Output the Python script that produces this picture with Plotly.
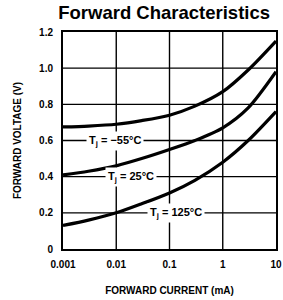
import math
import plotly.graph_objects as go

current_ma = [0.001, 0.003, 0.01, 0.03, 0.1, 0.3, 1, 3, 10]
v_m55 = [0.675, 0.68, 0.69, 0.71, 0.74, 0.79, 0.87, 0.99, 1.15]
v_25 = [0.41, 0.43, 0.46, 0.50, 0.55, 0.60, 0.67, 0.78, 0.98]
v_125 = [0.13, 0.16, 0.20, 0.25, 0.31, 0.38, 0.48, 0.60, 0.76]

x_ticks = [0.001, 0.01, 0.1, 1, 10]
x_ticktext = ["0.001", "0.01", "0.1", "1", "10"]
y_ticks = [0, 0.2, 0.4, 0.6, 0.8, 1.0, 1.2]
y_ticktext = ["0", "0.2", "0.4", "0.6", "0.8", "1.0", "1.2"]

labels = ["T<sub>j</sub> = \u221255°C", "T<sub>j</sub> = 25°C", "T<sub>j</sub> = 125°C"]
label_x = [0.0095, 0.019, 0.13]
label_y = [0.6, 0.4, 0.2]

FONT = "Liberation Sans, Arial, sans-serif"

fig = go.Figure()

# grid lines built from the tick arrays
for xv in x_ticks[1:-1]:
    fig.add_trace(go.Scatter(x=[xv, xv], y=[y_ticks[0], y_ticks[-1]], mode="lines",
                             line=dict(color="black", width=1.4),
                             showlegend=False, hoverinfo="skip"))
for yv in y_ticks[1:-1]:
    fig.add_trace(go.Scatter(x=[x_ticks[0], x_ticks[-1]], y=[yv, yv], mode="lines",
                             line=dict(color="black", width=1.4),
                             showlegend=False, hoverinfo="skip"))

for v in (v_m55, v_25, v_125):
    fig.add_trace(go.Scatter(x=current_ma, y=v, mode="lines",
                             line=dict(color="black", width=3.2, shape="spline", smoothing=0.8),
                             showlegend=False, hoverinfo="skip"))

for t, xx, yy in zip(labels, label_x, label_y):
    fig.add_annotation(x=math.log10(xx), y=yy, xref="x", yref="y", text="<b>" + t + "</b>",
                       showarrow=False, bgcolor="white", borderpad=2,
                       font=dict(family=FONT, size=11, color="black"))

fig.update_layout(
    width=283, height=300,
    margin=dict(l=63, r=7, t=32, b=51),
    paper_bgcolor="white", plot_bgcolor="white",
    title=dict(text="<b>Forward Characteristics</b>", x=0.58, xanchor="center",
               y=0.957, yanchor="middle",
               font=dict(family=FONT, size=18.5, color="black")),
    font=dict(family=FONT, color="black"),
    hovermode=False,
)
fig.update_xaxes(type="log", range=[-3, 1], tickvals=x_ticks,
                 ticktext=["<b>" + t + "</b>" for t in x_ticktext],
                 tickfont=dict(family=FONT, size=10, color="black"),
                 showgrid=False, automargin=False,
                 showline=True, linecolor="black", linewidth=2, mirror=True,
                 ticks="", ticklabelstandoff=5,
                 zeroline=False,
                 title=dict(text="<b>FORWARD CURRENT (mA)</b>", standoff=18,
                            font=dict(family=FONT, size=10, color="black")))
fig.update_yaxes(range=[0, 1.2], tickvals=y_ticks,
                 ticktext=["<b>" + t + "</b>" for t in y_ticktext],
                 tickfont=dict(family=FONT, size=10, color="black"),
                 showgrid=False, automargin=False,
                 showline=True, linecolor="black", linewidth=2, mirror=True,
                 ticks="", ticklabelstandoff=6,
                 zeroline=False,
                 title=dict(text="<b>FORWARD VOLTAGE (V)</b>", standoff=16,
                            font=dict(family=FONT, size=10, color="black")))

fig.write_html("out.html", config={"displayModeBar": False},
               post_script="document.body.style.margin='0';")
